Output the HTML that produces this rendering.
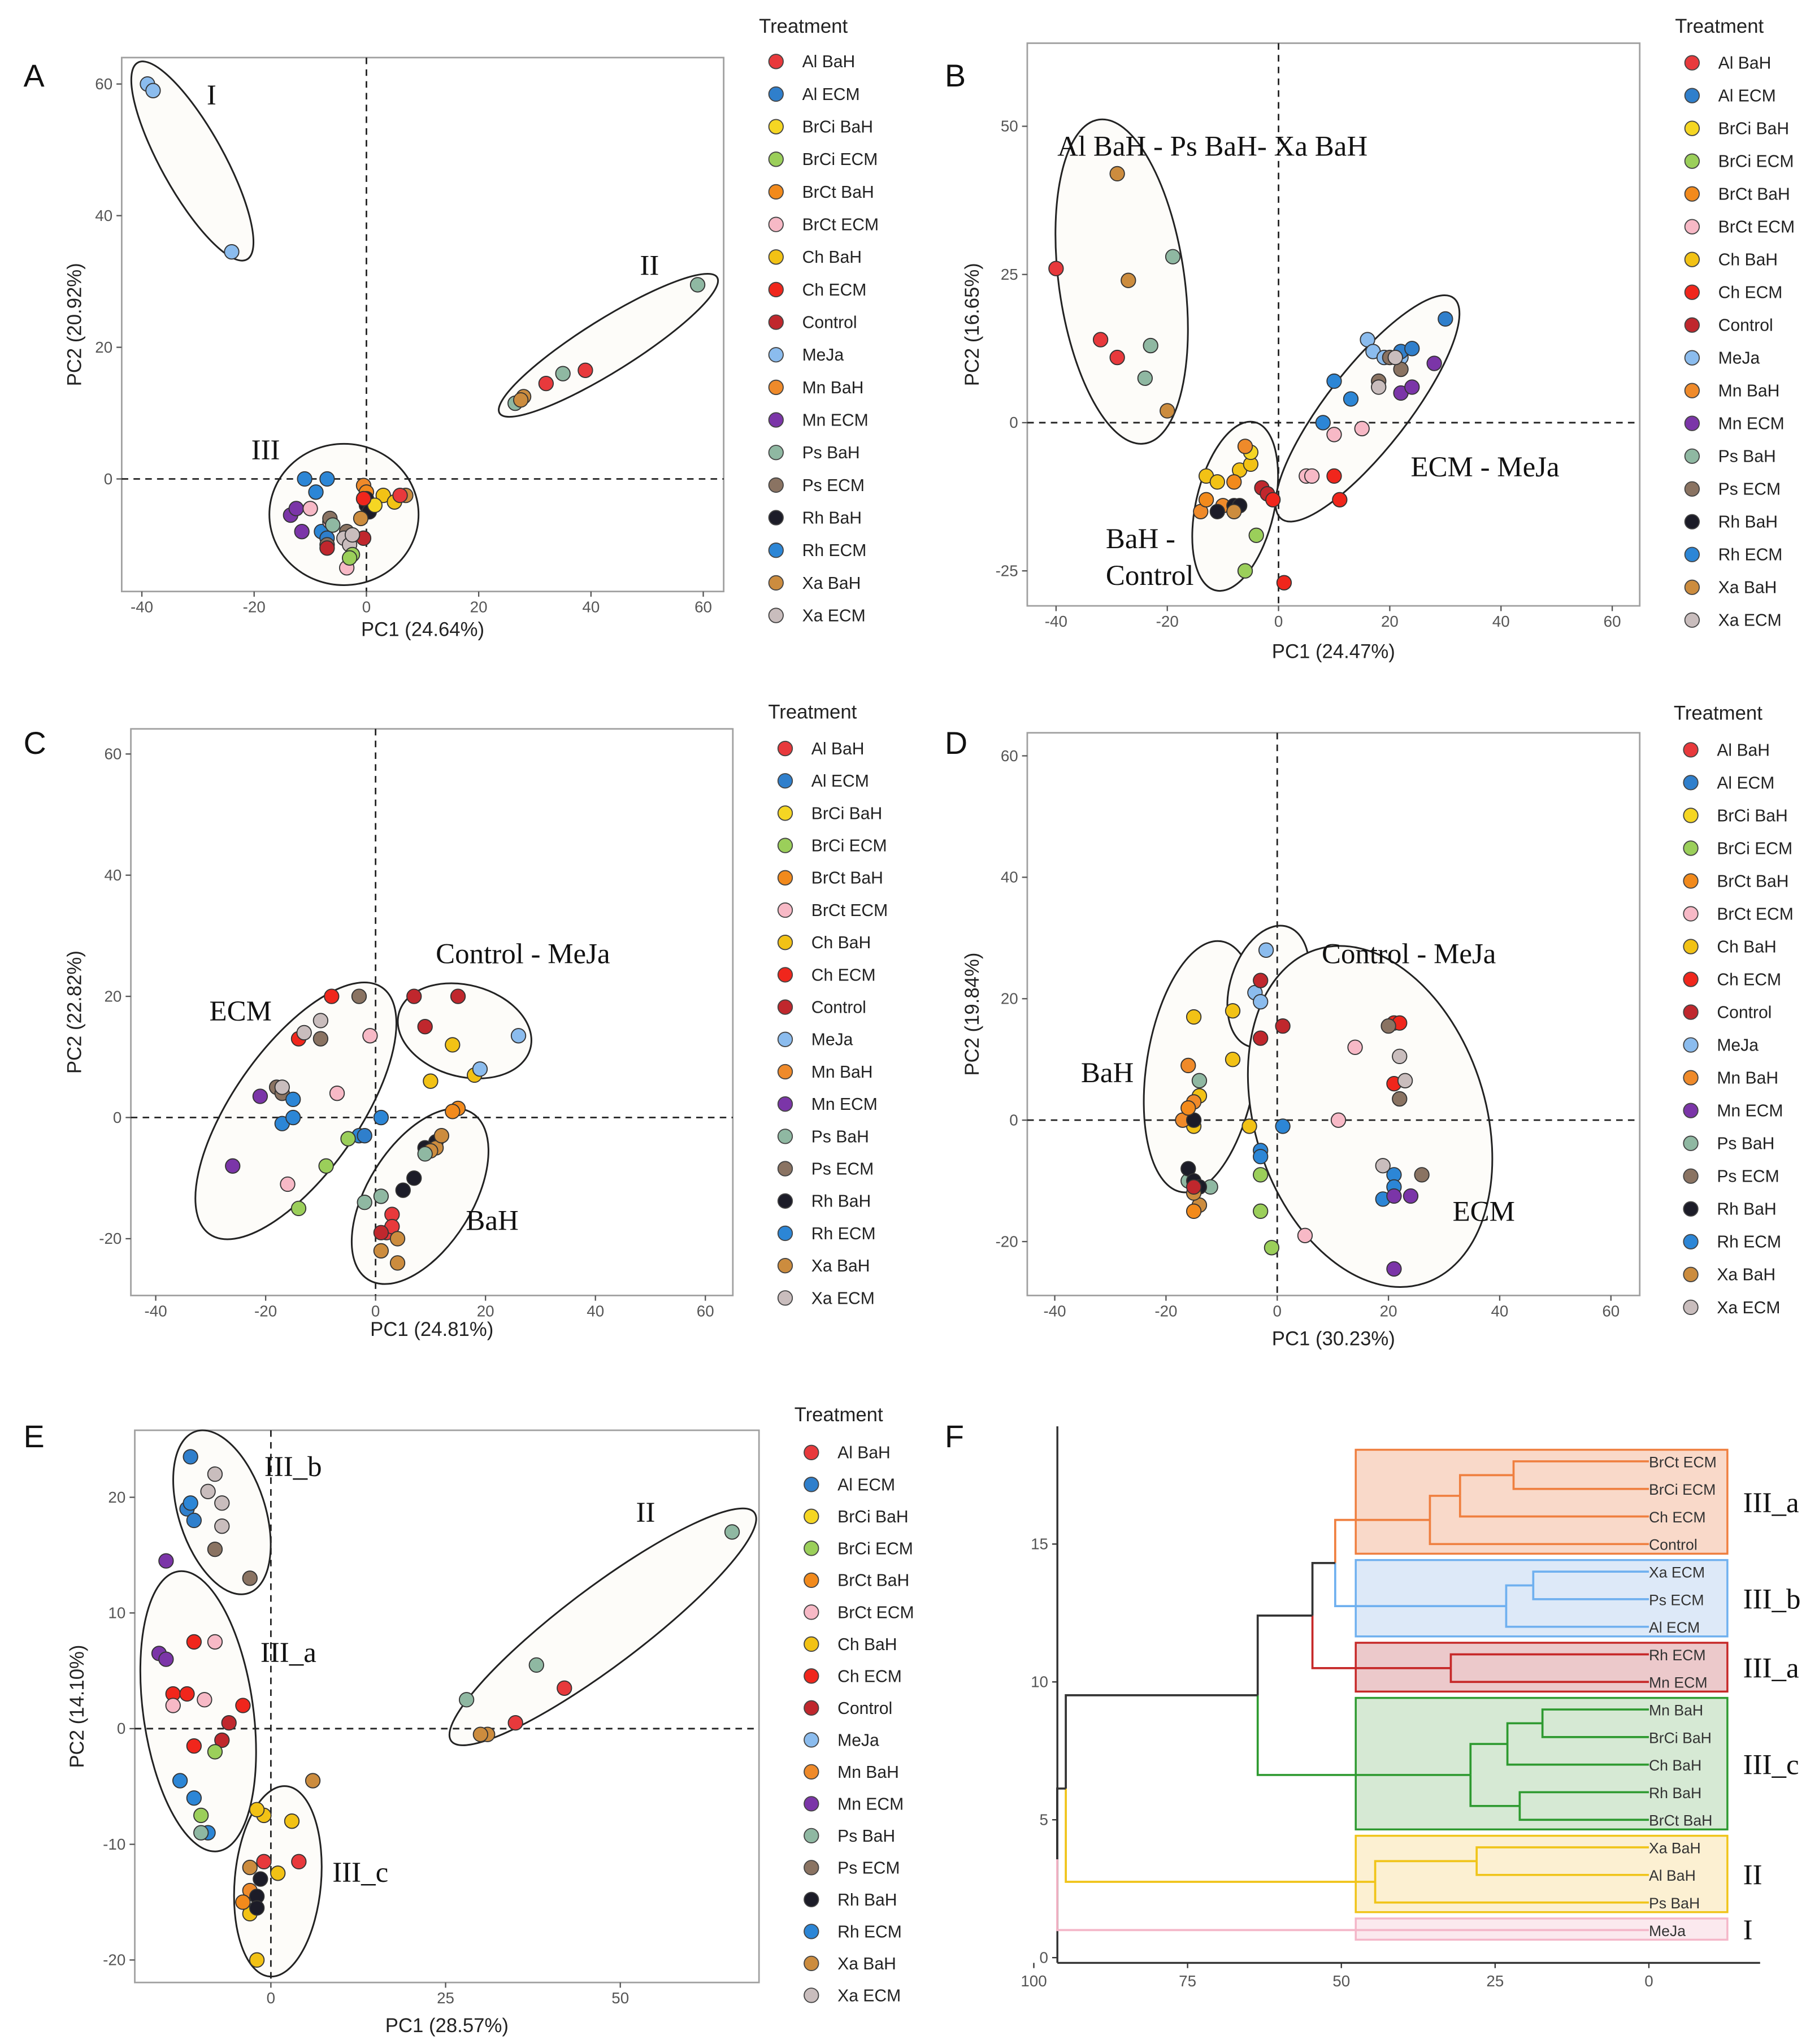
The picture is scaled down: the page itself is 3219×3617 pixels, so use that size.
<!DOCTYPE html>
<html><head><meta charset="utf-8"><style>
html,body{margin:0;padding:0;background:#fff}
svg{display:block}
</style></head><body>
<svg id="fig" xmlns="http://www.w3.org/2000/svg" width="3219" height="3617" viewBox="0 0 1390 1562" preserveAspectRatio="none"></svg>
<script>
const treatments=["Al BaH","Al ECM","BrCi BaH","BrCi ECM","BrCt BaH","BrCt ECM","Ch BaH","Ch ECM","Control","MeJa","Mn BaH","Mn ECM","Ps BaH","Ps ECM","Rh BaH","Rh ECM","Xa BaH","Xa ECM"];
const colors=["#e8393c","#2f7fcc","#f5d623","#9bcf5a","#f28a1c","#f7b9c6","#f2c215","#f0261c","#c0272d","#8bbcee","#ef8a2a","#7b35a8","#8fb8a2","#8a7362","#1c1c28","#2c86d6","#cc8c3e","#c9bdbd"];

// Panel A
const aGrp=[9,9,9,12,12,12,0,0,16,16,15,15,15,15,1,11,11,11,5,5,5,13,13,13,8,8,17,17,17,3,3,10,4,14,14,14,6,6,2,16,16,0,7,12];
const aPC1=[-39,-38,-24,59,35,26.5,39,32,28,27.5,-11,-9,-7,-8,-7,-13.5,-12.5,-11.5,-10,-6.5,-3.5,-7,-6.5,-3.5,-7,-0.5,-4,-3,-2.5,-2.5,-3,-0.5,0,0,0,0.5,3,5,1.5,7,-1,6,-0.5,-6];
const aPC2=[60,59,34.5,29.5,16,11.5,16.5,14.5,12.5,12,0,-2,0,-8,-9,-5.5,-4.5,-8,-4.5,-6.5,-13.5,-10,-6,-8,-10.5,-9,-9,-10,-8.5,-11.5,-12,-1,-2,-3,-4,-5,-2.5,-3.5,-4,-2.5,-6,-2.5,-3,-7];
// Panel B
const bGrp=[0,0,0,16,16,16,12,12,12,6,6,6,6,2,10,10,4,4,10,14,14,14,8,8,7,7,3,3,16,9,9,9,9,1,1,1,15,15,15,11,11,11,13,13,13,17,17,5,5,5,5,7,7];
const bPC1=[-40,-32,-29,-29,-27,-20,-19,-23,-24,-13,-11,-7,-5,-5,-14,-10,-8,-13,-6,-11,-8,-7,-3,-2,-1,1,-4,-6,-8,16,17,19,22,30,22,24,10,13,8,22,24,28,18,20,22,18,21,5,10,15,6,10,11];
const bPC2=[26,14,11,42,24,2,28,13,7.5,-9,-10,-8,-7,-5,-15,-14,-10,-13,-4,-15,-14,-14,-11,-12,-13,-27,-19,-25,-15,14,12,11,11,17.5,12,12.5,7,4,0,5,6,10,7,11,9,6,11,-9,-2,-1,-9,-9,-13];
// Panel C
const cGrp=[8,8,8,6,6,6,9,9,4,7,7,13,13,13,13,17,17,17,5,5,5,11,11,15,15,15,15,15,1,3,3,3,12,12,14,14,14,14,16,16,16,12,0,0,0,8,16,16,16,4];
const cPC1=[7,15,9,14,10,18,19,26,15,-8,-14,-3,-10,-18,-17,-10,-13,-17,-1,-7,-16,-21,-26,-15,-17,-15,-3,1,-2,-9,-5,-14,-2,1,11,9,7,5,11,12,10,9,3,2,3,1,4,4,1,14];
const cPC2=[20,20,15,12,6,7,8,13.5,1.5,20,13,20,13,5,4,16,14,5,13.5,4,-11,3.5,-8,3,-1,0,-3,0,-3,-8,-3.5,-15,-14,-13,-4,-5,-10,-12,-5,-3,-5.5,-6,-16,-19,-18,-19,-20,-24,-22,1];
// Panel D
const dGrp=[9,9,9,8,8,8,6,6,6,6,6,6,10,10,10,12,12,12,14,14,14,14,16,16,4,4,8,3,3,3,15,15,15,7,7,7,13,13,13,17,17,17,5,5,5,15,15,15,11,11,11];
const dPC1=[-2,-4,-3,-3,-3,1,-15,-8,-8,-14,-15,-5,-16,-17,-15,-14,-16,-12,-16,-15,-15,-14,-14,-15,-15,-16,-15,-3,-3,-1,-3,1,-3,21,22,21,20,22,26,22,23,19,14,11,5,21,21,19,21,24,21];
const dPC2=[28,21,19.5,23,13.5,15.5,17,18,10,4,-1,-1,9,0,3,6.5,-10,-11,-8,-10,0,-11,-14,-12,-15,2,-11,-9,-15,-21,-5,-1,-6,16,16,6,15.5,3.5,-9,10.5,6.5,-7.5,12,0,-19,-9,-11,-13,-12.5,-12.5,-24.5];
// Panel E
const eGrp=[1,1,1,17,17,17,17,13,13,15,11,11,11,7,7,7,7,7,5,5,5,8,8,3,15,15,15,3,12,6,6,6,6,6,6,16,16,10,10,0,0,14,14,14,4,12,12,12,0,0,16,16];
const ePC1=[-11.5,-12,-11,-8,-7,-7,-9,-8,-3,-11.5,-15,-16,-15,-11,-14,-12,-11,-4,-14,-8,-9.5,-7,-6,-8,-13,-11,-9,-10,-10,-1,-2,3,-2,1,-3,6,-3,-3,-4,4,-1,-1.5,-2,-2,-4,66,38,28,42,35,31,30];
const ePC2=[23.5,19,18,22,19.5,17.5,20.5,15.5,13,19.5,14.5,6.5,6,7.5,3,3,-1.5,2,2,7.5,2.5,-1,0.5,-2,-4.5,-6,-9,-7.5,-9,-7.5,-7,-8,-20,-12.5,-16,-4.5,-12,-14,-15,-11.5,-11.5,-13,-14.5,-15.5,-15,17,5.5,2.5,3.5,0.5,-0.5,-0.5];

const svg=document.getElementById('fig');
const NS='http://www.w3.org/2000/svg';
function mk(tag,attrs,parent,text){const e=document.createElementNS(NS,tag);for(const k in attrs)e.setAttribute(k,attrs[k]);if(text!==undefined)e.textContent=text;(parent||svg).appendChild(e);return e;}

function panel(cfg){
  const g=mk('g',{});
  
  
  const sx=v=>cfg.xz+v*cfg.xs, sy=v=>cfg.yz-v*cfg.ys;
  const [x0,y0,x1,y1]=cfg.box;
  const bg=mk('rect',{x:x0,y:y0,width:x1-x0,height:y1-y0,fill:'#fff',stroke:'#a0a0a0','stroke-width':1.2},g);
  
  const lt=mk('text',{x:cfg.lx,y:cfg.ly,'font-family':'Liberation Sans, sans-serif','font-size':24,fill:'#111'},g,cfg.letter);
  
  cfg.xticks.forEach(t=>{const x=sx(t);mk('line',{x1:x,x2:x,y1:y1,y2:y1+4,stroke:'#555'},g);
    const tx=mk('text',{x:x,y:y1+16,'text-anchor':'middle','font-family':'Liberation Sans, sans-serif','font-size':12,fill:'#555'},g,t);
    });
  cfg.yticks.forEach(t=>{const y=sy(t);mk('line',{x1:x0-4,x2:x0,y1:y,y2:y,stroke:'#555'},g);
    const tx=mk('text',{x:x0-7,y:y+4,'text-anchor':'end','font-family':'Liberation Sans, sans-serif','font-size':12,fill:'#555'},g,t);
    });
  const xt=mk('text',{x:(x0+x1)/2,y:cfg.xty,'text-anchor':'middle','font-family':'Liberation Sans, sans-serif','font-size':15,fill:'#222'},g,cfg.xlabel);
  
  const ym=(y0+y1)/2;
  const yt=mk('text',{x:cfg.ytx,y:ym,'text-anchor':'middle','font-family':'Liberation Sans, sans-serif','font-size':15,fill:'#222',transform:`rotate(-90 ${cfg.ytx} ${ym})`},g,cfg.ylabel);
  
  cfg.ells.forEach(e=>{const cx=sx(e[0]),cy=sy(e[1]);
    const el=mk('ellipse',{cx:cx,cy:cy,rx:e[2],ry:e[3],transform:`rotate(${e[4]} ${cx} ${cy})`,fill:'#fdfcf9',stroke:'#222','stroke-width':1.3},g);
    });
  mk('line',{x1:sx(0),x2:sx(0),y1:y0,y2:y1,stroke:'#222','stroke-dasharray':'5,4','stroke-width':1.2},g);
  mk('line',{x1:x0,x2:x1,y1:sy(0),y2:sy(0),stroke:'#222','stroke-dasharray':'5,4','stroke-width':1.2},g);
  cfg.grp.forEach((k,i)=>{const c=mk('circle',{cx:sx(cfg.px[i]),cy:sy(cfg.py[i]),r:5.5,fill:colors[k],stroke:'#333','stroke-width':0.8},g);
    
    });
  cfg.labels.forEach(l=>{const t=mk('text',{x:l[0],y:l[1],'font-family':'Liberation Serif, serif','font-size':l[3]||22,fill:'#111'},g,l[2]);
    });
  const lg=mk('g',{},g);
  
  mk('text',{x:cfg.leg[0]-13,y:cfg.leg[1],'font-family':'Liberation Sans, sans-serif','font-size':15,fill:'#222'},lg,'Treatment');
  treatments.forEach((t,i)=>{const y=cfg.leg[2]+i*cfg.leg[3];
    const it=mk('g',{},lg);
    
    mk('circle',{cx:cfg.leg[0],cy:y,r:5.5,fill:colors[i],stroke:'#444','stroke-width':0.8},it);
    mk('text',{x:cfg.leg[0]+20,y:y+4.5,'font-family':'Liberation Sans, sans-serif','font-size':13,fill:'#222'},it,t);});
}

panel({letter:'A',lx:18,ly:66,box:[93,44,553,452],xz:280,xs:4.29,yz:366,ys:5.03,xticks:[-40,-20,0,20,40,60],yticks:[0,20,40,60],
  xlabel:'PC1 (24.64%)',xty:486,ylabel:'PC2 (20.92%)',ytx:62,grp:aGrp,px:aPC1,py:aPC2,
  ells:[[-31,48.3,86,24,61],[43.1,20.3,98,20,-32],[-4,-5.4,57,54,0]],
  labels:[[158,80,'I'],[489,210,'II'],[192,351,'III']],leg:[593,25,47,24.9]});
panel({letter:'B',lx:722,ly:66,box:[785,33,1253,463],xz:977,xs:4.25,yz:323,ys:4.53,xticks:[-40,-20,0,20,40,60],yticks:[-25,0,25,50],
  xlabel:'PC1 (24.47%)',xty:503,ylabel:'PC2 (16.65%)',ytx:748,grp:bGrp,px:bPC1,py:bPC2,
  ells:[[-28.2,23.8,125,48,82],[-7.8,-14.1,66,30,103],[16,2.4,107,31,-52]],
  labels:[[808,119,'Al BaH - Ps BaH- Xa BaH'],[1078,364,'ECM - MeJa'],[845,419,'BaH -'],[845,447,'Control']],leg:[1293,25,48,25.05]});
panel({letter:'C',lx:18,ly:576,box:[100,557,560,990],xz:287,xs:4.2,yz:854,ys:4.63,xticks:[-40,-20,0,20,40,60],yticks:[-20,0,20,40,60],
  xlabel:'PC1 (24.81%)',xty:1021,ylabel:'PC2 (22.82%)',ytx:62,grp:cGrp,px:cPC1,py:cPC2,
  ells:[[-14.5,1.1,115,48,-55],[16.2,14.3,52,35,15],[8.1,-13,75,40,-58]],
  labels:[[333,736,'Control - MeJa'],[160,780,'ECM'],[356,940,'BaH']],leg:[600,549,572,24.7]});
panel({letter:'D',lx:722,ly:576,box:[785,560,1253,990],xz:976,xs:4.25,yz:856,ys:4.64,xticks:[-40,-20,0,20,40,60],yticks:[-20,0,20,40,60],
  xlabel:'PC1 (30.23%)',xty:1028,ylabel:'PC2 (19.84%)',ytx:748,grp:dGrp,px:dPC1,py:dPC2,
  ells:[[-13.6,8.8,97,42,99],[-1.6,22,48,29,108],[16.7,0.6,134,88,72]],
  labels:[[1010,736,'Control - MeJa'],[826,827,'BaH'],[1110,933,'ECM']],leg:[1292,550,573,25.06]});
panel({letter:'E',lx:18,ly:1106,box:[103,1093,580,1515],xz:207,xs:5.34,yz:1321,ys:8.84,xticks:[0,25,50],yticks:[-20,-10,0,10,20],
  xlabel:'PC1 (28.57%)',xty:1553,ylabel:'PC2 (14.10%)',ytx:64,grp:eGrp,px:ePC1,py:ePC2,
  ells:[[-7,18.7,65,33,72],[-10.4,1.5,108,42,82],[1,-13.2,73,33,95],[47.5,8.8,145,30,-37]],
  labels:[[202,1128,'III_b'],[199,1270,'III_a'],[254,1438,'III_c'],[486,1163,'II']],leg:[620,1086,1110,24.4]});

// Panel F dendrogram
const leaves=["BrCt ECM","BrCi ECM","Ch ECM","Control","Xa ECM","Ps ECM","Al ECM","Rh ECM","Mn ECM","Mn BaH","BrCi BaH","Ch BaH","Rh BaH","BrCt BaH","Xa BaH","Al BaH","Ps BaH","MeJa"];
const leafY=[18,17,16,15,14,13,12,11,10,9,8,7,6,5,4,3,2,1];
const leafCluster=[0,0,0,0,1,1,1,2,2,3,3,3,3,3,4,4,4,5];
const mergeName=["a","b","c","d","e","f","g","h","i","j","k","l","m","n","o","p","q"];
const mergeA=["L0","a","b","L4","d","c","L7","f","L9","i","L12","j","h","L14","n","m","p"];
const mergeB=["L1","L2","L3","L5","L6","e","L8","g","L10","L11","L13","k","l","L15","L16","o","L17"];
const mergeH=[22,30.7,35.6,18.8,23.2,51,32.2,54.7,17.3,23,21,29,63.6,28,44.5,94.8,96.2];
const clusterNames=["III_a","III_b","III_a","III_c","II","I"];
const clusterStroke=["#ef7f3f","#6fb0ef","#c62828","#2e9a30","#f0c419","#f4b6c8"];
const clusterFill=["#f9d9c9","#dde9f8","#ecc9cb","#d6e9d4","#fcf0d2","#fbe9ee"];
const fg=mk('g',{});

const fx=d=>1260-d*4.7, fy=v=>1496-v*21.07;
const fl=mk('text',{x:722,y:1106,'font-family':'Liberation Sans, sans-serif','font-size':24,fill:'#111'},fg,'F');

clusterNames.forEach((n,c)=>{const idx=leafCluster.map((v,i)=>v===c?i:-1).filter(i=>i>=0);
  const top=leafY[idx[0]]+0.42, bot=leafY[idx[idx.length-1]]-0.35;
  const r=mk('rect',{x:1036,y:fy(top),width:284,height:fy(bot)-fy(top),fill:clusterFill[c],stroke:clusterStroke[c],'stroke-width':1.5},fg);
  
  const t=mk('text',{x:1332,y:(fy(top)+fy(bot))/2+8,'font-family':'Liberation Serif, serif','font-size':22,fill:'#111'},fg,n);
  });
mk('line',{x1:808,x2:808,y1:1090,y2:1500,stroke:'#333','stroke-width':1.5},fg);
mk('line',{x1:808,x2:1345,y1:1500,y2:1500,stroke:'#333','stroke-width':1.5},fg);
[0,5,10,15].forEach(t=>{mk('line',{x1:804,x2:808,y1:fy(t),y2:fy(t),stroke:'#333'},fg);
  const tx=mk('text',{x:801,y:fy(t)+4,'text-anchor':'end','font-family':'Liberation Sans, sans-serif','font-size':12,fill:'#555'},fg,t);
  });
[100,75,50,25,0].forEach(t=>{mk('line',{x1:fx(t),x2:fx(t),y1:1500,y2:1504,stroke:'#333'},fg);
  const tx=mk('text',{x:fx(t),y:1518,'text-anchor':'middle','font-family':'Liberation Sans, sans-serif','font-size':12,fill:'#555'},fg,t);
  });
const nodes={};
leaves.forEach((l,i)=>{nodes['L'+i]={y:leafY[i],h:0,c:leafCluster[i]};});
mergeName.forEach((n,i)=>{const A=nodes[mergeA[i]],B=nodes[mergeB[i]];
  const c=(A.c===B.c)?A.c:-1;nodes[n]={y:(A.y+B.y)/2,h:mergeH[i],c:c};
  const col=x=>x<0?'#333':clusterStroke[x];
  const X=fx(mergeH[i]);
  [A,B].forEach(ch=>{
    const ln=mk('path',{d:`M${fx(ch.h)},${fy(ch.y)}H${X}V${fy(nodes[n].y)}`,fill:'none',stroke:col(c<0?ch.c:c),'stroke-width':1.6},fg);
    });});
leaves.forEach((l,i)=>{const t=mk('text',{x:1260,y:fy(leafY[i])+4.5,'font-family':'Liberation Sans, sans-serif','font-size':11.5,fill:'#333'},fg,l);
  });
</script>
</body></html>
